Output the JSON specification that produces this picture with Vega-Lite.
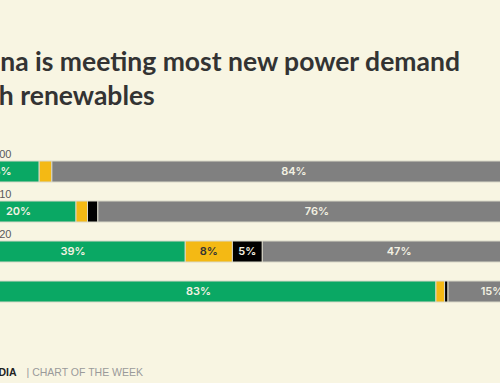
{
  "$schema": "https://vega.github.io/schema/vega-lite/v6.json",
  "width": 575,
  "height": 160,
  "autosize": {"type": "none"},
  "padding": {"left": -39, "right": -36, "top": 151.5, "bottom": 71.5},
  "background": "#f8f5e2",
  "config": {"view": {"stroke": null}},
  "title": {
    "text": ["China is meeting most new power demand", "with renewables"],
    "anchor": "start",
    "frame": "group",
    "font": "Lato",
    "fontSize": 26.5,
    "fontWeight": "bold",
    "color": "#333333",
    "lineHeight": 34,
    "offset": 39
  },
  "data": {
    "values": [
      {"yr": "2000", "rowLabel": "2000", "cat": "Renewables", "share": 13.6, "label": "13%"},
      {"yr": "2000", "rowLabel": "2000", "cat": "Nuclear", "share": 2.2, "label": ""},
      {"yr": "2000", "rowLabel": "2000", "cat": "Fossil", "share": 84.2, "label": "84%"},
      {"yr": "2010", "rowLabel": "2010", "cat": "Renewables", "share": 20.0, "label": "20%"},
      {"yr": "2010", "rowLabel": "2010", "cat": "Nuclear", "share": 2.0, "label": ""},
      {"yr": "2010", "rowLabel": "2010", "cat": "Other", "share": 1.8, "label": ""},
      {"yr": "2010", "rowLabel": "2010", "cat": "Fossil", "share": 76.2, "label": "76%"},
      {"yr": "2020", "rowLabel": "2020", "cat": "Renewables", "share": 39.0, "label": "39%"},
      {"yr": "2020", "rowLabel": "2020", "cat": "Nuclear", "share": 8.2, "label": "8%"},
      {"yr": "2020", "rowLabel": "2020", "cat": "Other", "share": 5.2, "label": "5%"},
      {"yr": "2020", "rowLabel": "2020", "cat": "Fossil", "share": 47.6, "label": "47%"},
      {"yr": "New", "rowLabel": "", "cat": "Renewables", "share": 82.6, "label": "83%"},
      {"yr": "New", "rowLabel": "", "cat": "Nuclear", "share": 1.5, "label": ""},
      {"yr": "New", "rowLabel": "", "cat": "Other", "share": 0.6, "label": ""},
      {"yr": "New", "rowLabel": "", "cat": "Fossil", "share": 15.3, "label": "15%"}
    ]
  },
  "transform": [
    {"stack": "share", "groupby": ["yr"], "as": ["x0", "x1"]},
    {"calculate": "(datum.x0 + datum.x1) / 2", "as": "xm"}
  ],
  "layer": [
    {
      "mark": {"type": "bar", "stroke": "#d9d8c8", "strokeWidth": 1},
      "encoding": {
        "y": {
          "field": "yr", "type": "nominal", "sort": null,
          "scale": {"paddingInner": 0.475, "paddingOuter": 0.2375},
          "axis": {"labels": false, "ticks": false, "domain": false, "grid": false,
            "title": "DIA", "titleAngle": 0, "titleX": 37, "titleY": 223.5,
            "titleAlign": "left", "titleBaseline": "alphabetic",
            "titleFont": "Liberation Sans", "titleFontSize": 10.5, "titleFontWeight": "bold", "titleColor": "#222222"}
        },
        "x": {
          "field": "x0", "type": "quantitative",
          "scale": {"domain": [0, 100], "nice": false, "zero": false},
          "axis": {"labels": false, "ticks": false, "domain": false, "grid": false,
            "title": "|     CHART OF THE WEEK", "titleX": 65, "titleY": 63.5,
            "titleAlign": "left", "titleBaseline": "alphabetic",
            "titleFont": "Liberation Sans", "titleFontSize": 10.5, "titleFontWeight": "normal", "titleColor": "#9a9a9a"}
        },
        "x2": {"field": "x1"},
        "color": {
          "field": "cat", "type": "nominal", "legend": null,
          "scale": {"domain": ["Renewables", "Nuclear", "Other", "Fossil"],
                    "range": ["#0aa864", "#f4b914", "#000000", "#808080"]}
        }
      }
    },
    {
      "transform": [{"filter": "datum.label != ''"}],
      "mark": {"type": "text", "font": "Inter", "fontSize": 11, "fontWeight": 600, "baseline": "middle", "align": "center"},
      "encoding": {
        "y": {"field": "yr", "type": "nominal", "sort": null},
        "x": {"field": "xm", "type": "quantitative"},
        "text": {"field": "label"},
        "color": {
          "condition": {"test": "datum.cat == 'Nuclear'", "value": "#333333"},
          "value": "#f3f1e2"
        }
      }
    },
    {
      "transform": [{"filter": "datum.cat == 'Renewables' && datum.rowLabel != ''"}],
      "mark": {"type": "text", "font": "Liberation Sans", "fontSize": 11, "align": "left", "baseline": "alphabetic", "dx": 26, "dy": -13.5, "color": "#5a5a5a"},
      "encoding": {
        "y": {"field": "yr", "type": "nominal", "sort": null},
        "x": {"datum": 0, "type": "quantitative"},
        "text": {"field": "rowLabel"}
      }
    }
  ]
}
